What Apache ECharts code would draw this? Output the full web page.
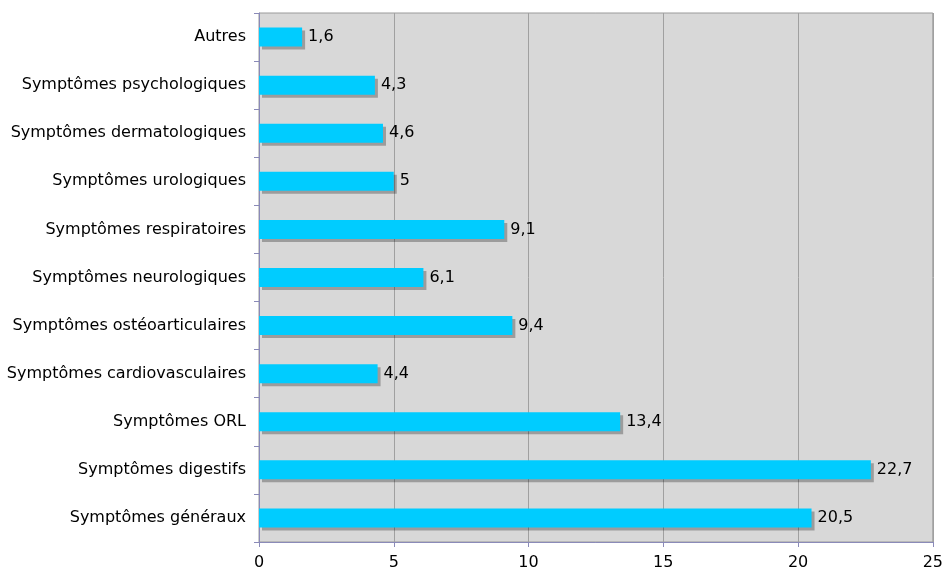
<!DOCTYPE html>
<html>
<head>
<meta charset="utf-8">
<script src="https://cdn.jsdelivr.net/npm/echarts@6/dist/echarts.min.js"></script>
<style>
  html, body { margin: 0; padding: 0; background: #fff; }
  #chart { width: 946px; height: 575px; }
</style>
</head>
<body>
<div id="chart"></div>
<script>
// categories from bottom to top
var categories = [
  'Symptômes généraux',
  'Symptômes digestifs',
  'Symptômes ORL',
  'Symptômes cardiovasculaires',
  'Symptômes ostéoarticulaires',
  'Symptômes neurologiques',
  'Symptômes respiratoires',
  'Symptômes urologiques',
  'Symptômes dermatologiques',
  'Symptômes psychologiques',
  'Autres'
]
var values = [20.5, 22.7, 13.4, 4.4, 9.4, 6.1, 9.1, 5, 4.6, 4.3, 1.6]
var xTicks = [0, 5, 10, 15, 20, 25]

var fontName = 'DejaVu Sans'
var option = {
  animation: false,
  backgroundColor: '#fff',
  grid: {
    left: 259,
    right: 10,
    top: 13,
    bottom: 33,
    show: true,
    backgroundColor: '#d8d8d8',
    borderColor: '#9a9a9a',
    borderWidth: 1
  },
  xAxis: {
    type: 'value',
    min: xTicks[0],
    max: xTicks[xTicks.length - 1],
    interval: 5,
    axisLine: { show: true, lineStyle: { color: '#8a8ab8', width: 1 } },
    axisTick: { show: true, length: 5, lineStyle: { color: '#8a8ab8' } },
    axisLabel: { color: '#000', fontSize: 16, fontFamily: fontName, margin: 13 },
    splitLine: { show: true, lineStyle: { color: '#a0a0a0', width: 1 } }
  },
  yAxis: {
    type: 'category',
    data: categories,
    axisLine: { show: true, lineStyle: { color: '#8a8ab8', width: 1 } },
    axisTick: { show: true, length: 5, alignWithLabel: false, lineStyle: { color: '#8a8ab8' } },
    axisLabel: { color: '#000', fontSize: 16, fontFamily: fontName, margin: 13 },
    splitLine: { show: false }
  },
  series: [
    {
      type: 'bar',
      data: values,
      barWidth: 19,
      itemStyle: {
        color: '#00ccff',
        shadowColor: 'rgba(0,0,0,0.28)',
        shadowOffsetX: 3,
        shadowOffsetY: 3,
        shadowBlur: 0
      },
      label: {
        show: true,
        position: 'right',
        distance: 6,
        color: '#000',
        fontSize: 16,
        fontFamily: fontName,
        formatter: function (p) {
          return String(p.value).replace('.', ',')
        }
      }
    }
  ]
}
var myChart = echarts.init(document.getElementById('chart'))
myChart.setOption(option)
</script>
</body>
</html>
